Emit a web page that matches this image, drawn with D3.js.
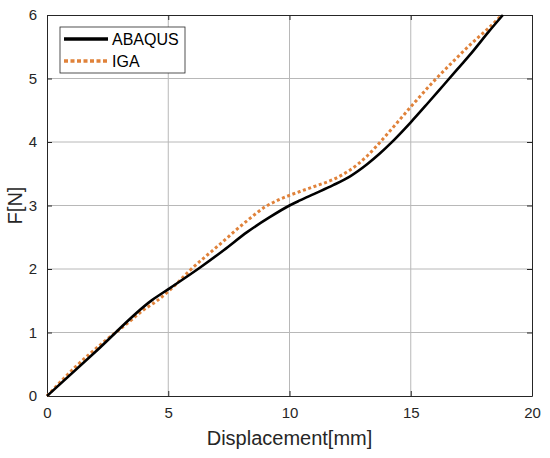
<!DOCTYPE html>
<html><head><meta charset="utf-8">
<script src="https://cdn.jsdelivr.net/npm/d3@7"></script>
<style>body{margin:0;background:#fff}svg{display:block}text{font-family:"Liberation Sans",Arial,sans-serif}</style>
</head><body><svg id="c" width="550" height="458"></svg>
<script>
const xTicks = [0, 5, 10, 15, 20];
const yTicks = [0, 1, 2, 3, 4, 5, 6];
const abaqusX = [0, 2.0, 4.33, 5.07, 6.3, 7.3, 8.25, 9.2, 10, 10.43, 11, 11.8, 12.5, 13.2, 13.7, 14.2, 15, 15.7, 16.34, 17, 17.5, 18.2, 18.8];
const abaqusY = [0, 0.697, 1.51, 1.70, 2.02, 2.30, 2.58, 2.82, 3.0, 3.08, 3.18, 3.32, 3.46, 3.65, 3.81, 3.99, 4.31, 4.61, 4.89, 5.18, 5.40, 5.73, 6.0];
const igaX = [0, 1.15, 2.4, 3.3, 4.0, 4.5, 5.1, 5.9, 7.1, 8.25, 9.0, 9.5, 10, 10.43, 11.1, 11.8, 12.5, 13.2, 13.86, 14.43, 15.2, 15.93, 16.7, 17.5, 18.2, 18.76];
const igaY = [0, 0.45, 0.87, 1.14, 1.36, 1.49, 1.68, 1.98, 2.38, 2.76, 2.98, 3.08, 3.16, 3.22, 3.31, 3.41, 3.56, 3.78, 4.05, 4.30, 4.64, 4.95, 5.25, 5.55, 5.79, 6.0];
const seriesNames = ["ABAQUS", "IGA"];

const svg = d3.select("#c");
const L = 47, R = 532, T = 15, B = 396;
const x = d3.scaleLinear().domain([0, 20]).range([L, R]);
const y = d3.scaleLinear().domain([0, 6]).range([B, T]);
const axisCol = "#262626";

// grid
const g = svg.append("g");
g.selectAll(".gx").data(xTicks.slice(1, -1)).enter().append("line")
  .attr("x1", d => x(d)).attr("x2", d => x(d)).attr("y1", T).attr("y2", B)
  .attr("stroke", "#b8b8b8").attr("stroke-width", 1);
g.selectAll(".gy").data(yTicks.slice(1, -1)).enter().append("line")
  .attr("y1", d => y(d)).attr("y2", d => y(d)).attr("x1", L).attr("x2", R)
  .attr("stroke", "#b8b8b8").attr("stroke-width", 1);

// axes
const fmt = d3.format("d");
const ax = svg.append("g").attr("transform", `translate(0,${B})`)
  .call(d3.axisBottom(x).tickValues(xTicks).tickFormat(fmt).tickSizeInner(-5).tickSizeOuter(0).tickPadding(11));
const ay = svg.append("g").attr("transform", `translate(${L},0)`)
  .call(d3.axisLeft(y).tickValues(yTicks).tickFormat(fmt).tickSizeInner(-5).tickSizeOuter(0).tickPadding(10));
const at = svg.append("g").attr("transform", `translate(0,${T})`)
  .call(d3.axisTop(x).tickValues(xTicks).tickSizeInner(-5).tickSizeOuter(0).tickFormat(""));
const ar = svg.append("g").attr("transform", `translate(${R},0)`)
  .call(d3.axisRight(y).tickValues(yTicks).tickSizeInner(-5).tickSizeOuter(0).tickFormat(""));
[ax, ay, at, ar].forEach(a => {
  a.selectAll("path").attr("stroke", axisCol).attr("stroke-width", 1);
  a.selectAll("line").attr("stroke", axisCol).attr("stroke-width", 1);
  a.selectAll("text").attr("fill", axisCol).style("font-size", "15px");
});

// lines
const line = d3.line().x(d => x(d[0])).y(d => y(d[1])).curve(d3.curveMonotoneX);
const abaqus = abaqusX.map((v, i) => [v, abaqusY[i]]);
const iga = igaX.map((v, i) => [v, igaY[i]]);
svg.append("path").datum(iga).attr("d", line).attr("fill", "none")
  .attr("stroke", "#E0823A").attr("stroke-width", 3).attr("stroke-dasharray", "3,2.6");
svg.append("path").datum(abaqus).attr("d", line).attr("fill", "none")
  .attr("stroke", "#000").attr("stroke-width", 2.6);

// legend
const lg = svg.append("g");
lg.append("rect").attr("x", 60).attr("y", 27).attr("width", 125).attr("height", 46)
  .attr("fill", "#fff").attr("stroke", axisCol).attr("stroke-width", 0.8);
lg.append("line").attr("x1", 64).attr("x2", 108).attr("y1", 39).attr("y2", 39)
  .attr("stroke", "#000").attr("stroke-width", 3.5);
lg.append("line").attr("x1", 64).attr("x2", 108).attr("y1", 61).attr("y2", 61)
  .attr("stroke", "#E0823A").attr("stroke-width", 3.5).attr("stroke-dasharray", "4,2.5");
lg.selectAll("text").data(seriesNames).enter().append("text")
  .attr("x", 112).attr("y", (d, i) => 45 + i * 22).text(d => d)
  .attr("fill", "#000").style("font-size", "16px");

// axis labels
svg.append("text").attr("x", (L + R) / 2).attr("y", 445).attr("text-anchor", "middle")
  .attr("fill", axisCol).style("font-size", "20px").text("Displacement[mm]");
svg.append("text").attr("transform", `translate(22,${(T + B) / 2}) rotate(-90)`)
  .attr("text-anchor", "middle").attr("fill", axisCol).style("font-size", "20px").text("F[N]");
</script></body></html>
